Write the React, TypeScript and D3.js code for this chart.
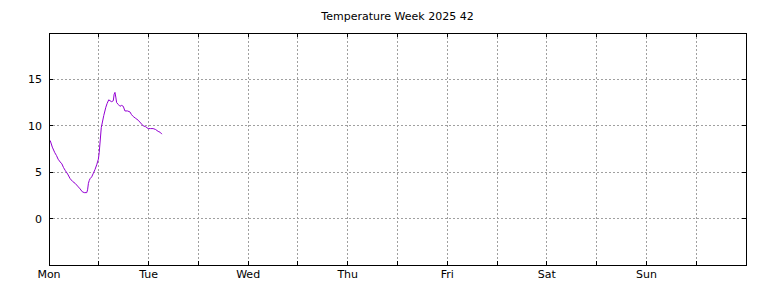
import React from "react";
import * as d3 from "d3";

const title = "Temperature Week 2025 42";
const dayLabels = ["Mon", "Tue", "Wed", "Thu", "Fri", "Sat", "Sun"];
const xTicks = [0, 12, 24, 36, 48, 60, 72, 84, 96, 108, 120, 132, 144, 156, 168];
const yTicks = [0, 5, 10, 15];
const hours = [0, 0.3, 0.8, 1.4, 1.8, 2.2, 2.7, 3.1, 3.5, 3.9, 4.5, 5.1, 5.7, 6.3, 6.9, 7.5, 8.0, 8.5, 9.1, 9.3, 9.5, 9.7, 9.9, 10.3, 10.7, 11.1, 11.5, 11.9, 12.1, 12.6, 13.2, 13.7, 14.0, 14.4, 14.7, 15.1, 15.5, 15.7, 15.9, 16.1, 16.3, 16.7, 17.1, 17.5, 17.9, 18.3, 18.9, 19.5, 19.9, 20.3, 20.9, 21.5, 22.1, 22.7, 23.3, 23.9, 24.5, 25.1, 25.7, 26.3, 26.8, 27.2];
const temps = [8.5, 8.4, 7.7, 7.1, 6.8, 6.4, 6.1, 5.9, 5.5, 5.2, 4.8, 4.3, 4.0, 3.8, 3.5, 3.2, 2.9, 2.8, 2.8, 3.1, 3.8, 4.1, 4.3, 4.5, 4.9, 5.3, 5.8, 6.4, 7.1, 9.8, 11.1, 12.0, 12.4, 12.8, 12.7, 12.6, 12.7, 13.4, 13.6, 13.1, 12.5, 12.3, 12.1, 12.2, 12.1, 11.6, 11.6, 11.5, 11.2, 11.0, 10.8, 10.6, 10.3, 10.0, 9.9, 9.7, 9.7, 9.7, 9.6, 9.4, 9.3, 9.1];

export default function App() {
  const W = 768, H = 288;
  const L = 49, R = 746, T = 33, B = 265;
  const x = d3.scaleLinear().domain([0, 168]).range([L, R]);
  const y = d3.scaleLinear().domain([-5, 20]).range([B, T]);
  const line = d3.line<number>().x((_, i) => x(hours[i])).y((d) => y(d));
  const font = "'DejaVu Sans', sans-serif";
  return (
    <svg width={W} height={H} style={{ position: "absolute", left: 0, top: 0 }}>
      <rect x={0} y={0} width={W} height={H} fill="white" />
      <text x={(L + R) / 2} y={20} textAnchor="middle" fontFamily={font} fontSize={11}>{title}</text>
      {xTicks.slice(1, -1).map((t) => (
        <line key={"gx" + t} x1={x(t)} x2={x(t)} y1={T} y2={B} stroke="#a0a0a0" strokeDasharray="2,2" shapeRendering="crispEdges" />
      ))}
      {yTicks.map((t) => (
        <line key={"gy" + t} x1={L} x2={R} y1={y(t)} y2={y(t)} stroke="#a0a0a0" strokeDasharray="2,2" shapeRendering="crispEdges" />
      ))}
      {xTicks.slice(1, -1).map((t) => (
        <g key={"tx" + t}>
          <line x1={x(t)} x2={x(t)} y1={B} y2={B - 4} stroke="black" shapeRendering="crispEdges" />
          <line x1={x(t)} x2={x(t)} y1={T} y2={T + 4} stroke="black" shapeRendering="crispEdges" />
        </g>
      ))}
      {yTicks.map((t) => (
        <g key={"ty" + t}>
          <line x1={L} x2={L + 4} y1={y(t)} y2={y(t)} stroke="black" shapeRendering="crispEdges" />
          <line x1={R} x2={R - 4} y1={y(t)} y2={y(t)} stroke="black" shapeRendering="crispEdges" />
          <text x={L - 7} y={y(t) + 4} textAnchor="end" fontFamily={font} fontSize={11}>{t}</text>
        </g>
      ))}
      {dayLabels.map((d, i) => (
        <text key={d} x={x(i * 24)} y={B + 13} textAnchor="middle" fontFamily={font} fontSize={11}>{d}</text>
      ))}
      <path d={line(temps) || ""} fill="none" stroke="#9400d3" strokeWidth={1} />
      <rect x={L} y={T} width={R - L} height={B - T} fill="none" stroke="black" shapeRendering="crispEdges" />
    </svg>
  );
}
